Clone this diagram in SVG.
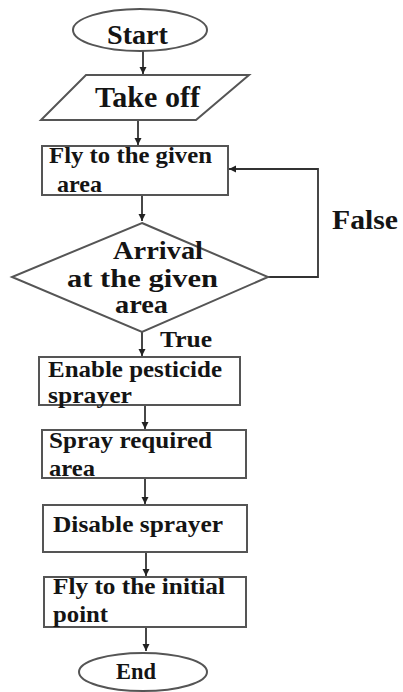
<svg xmlns="http://www.w3.org/2000/svg" width="403" height="692" viewBox="0 0 403 692">
<defs>
<style>
.shape{fill:#fff;stroke:#555;stroke-width:2}
.conn{fill:none;stroke:#333;stroke-width:1.8}
text{font-family:"Liberation Serif","Times New Roman",Times,serif;font-weight:700;fill:#141414}
</style>
<marker id="ah" viewBox="0 0 10 10" refX="10" refY="5" markerWidth="4" markerHeight="4" orient="auto" markerUnits="strokeWidth">
<path d="M0,0 L10,5 L0,10 z" fill="#222"/>
</marker>
</defs>
<rect width="403" height="692" fill="#fff"/>
<g id="connectors">
<line class="conn" x1="143" y1="51" x2="143" y2="74" marker-end="url(#ah)"/>
<line class="conn" x1="138" y1="120" x2="138" y2="145" marker-end="url(#ah)"/>
<line class="conn" x1="142" y1="195" x2="142" y2="221" marker-end="url(#ah)"/>
<polyline class="conn" points="268,277 318,277 318,169 229,169" marker-end="url(#ah)"/>
<line class="conn" x1="142" y1="332" x2="142" y2="356" marker-end="url(#ah)"/>
<line class="conn" x1="145" y1="405" x2="145" y2="429" marker-end="url(#ah)"/>
<line class="conn" x1="145" y1="478" x2="145" y2="504" marker-end="url(#ah)"/>
<line class="conn" x1="146" y1="552" x2="146" y2="576" marker-end="url(#ah)"/>
<line class="conn" x1="146" y1="627" x2="146" y2="651" marker-end="url(#ah)"/>
<text x="332" y="229" font-size="28" textLength="66" lengthAdjust="spacingAndGlyphs">False</text>
<text x="160" y="347" font-size="24" textLength="52" lengthAdjust="spacingAndGlyphs">True</text>
</g>
<g id="start">
<ellipse class="shape" cx="140" cy="30" rx="67" ry="21"/>
<text x="107" y="44" font-size="28" textLength="61" lengthAdjust="spacingAndGlyphs">Start</text>
</g>
<g id="takeoff">
<polygon class="shape" points="86,75 249,75 196,120 41,120"/>
<text x="95" y="107" font-size="29" textLength="105" lengthAdjust="spacingAndGlyphs">Take off</text>
</g>
<g id="fly">
<rect class="shape" x="42" y="146" width="186" height="49"/>
<text x="49" y="163" font-size="23" textLength="163" lengthAdjust="spacingAndGlyphs">Fly to the given</text>
<text x="57" y="192" font-size="23" textLength="45" lengthAdjust="spacingAndGlyphs">area</text>
</g>
<g id="arrival">
<polygon class="shape" points="142,223 268,277 142,332 12,277"/>
<text x="113" y="259" font-size="25" textLength="90" lengthAdjust="spacingAndGlyphs">Arrival</text>
<text x="67" y="287" font-size="25" textLength="151" lengthAdjust="spacingAndGlyphs">at the given</text>
<text x="115" y="313" font-size="25" textLength="53" lengthAdjust="spacingAndGlyphs">area</text>
</g>
<g id="enable">
<rect class="shape" x="39" y="357" width="201" height="48"/>
<text x="48" y="377" font-size="24" textLength="174" lengthAdjust="spacingAndGlyphs">Enable pesticide</text>
<text x="48" y="403" font-size="24" textLength="84" lengthAdjust="spacingAndGlyphs">sprayer</text>
</g>
<g id="spray">
<rect class="shape" x="42" y="430" width="204" height="48"/>
<text x="49" y="448" font-size="24" textLength="163" lengthAdjust="spacingAndGlyphs">Spray required</text>
<text x="49" y="476" font-size="24" textLength="46" lengthAdjust="spacingAndGlyphs">area</text>
</g>
<g id="disable">
<rect class="shape" x="43" y="505" width="204" height="47"/>
<text x="53" y="532" font-size="24" textLength="170" lengthAdjust="spacingAndGlyphs">Disable sprayer</text>
</g>
<g id="return">
<rect class="shape" x="44" y="577" width="202" height="50"/>
<text x="53" y="594" font-size="24" textLength="172" lengthAdjust="spacingAndGlyphs">Fly to the initial</text>
<text x="53" y="622" font-size="24" textLength="55" lengthAdjust="spacingAndGlyphs">point</text>
</g>
<g id="end">
<ellipse class="shape" cx="143" cy="672" rx="64" ry="19"/>
<text x="116" y="679" font-size="24" textLength="40" lengthAdjust="spacingAndGlyphs">End</text>
</g>
</svg>
